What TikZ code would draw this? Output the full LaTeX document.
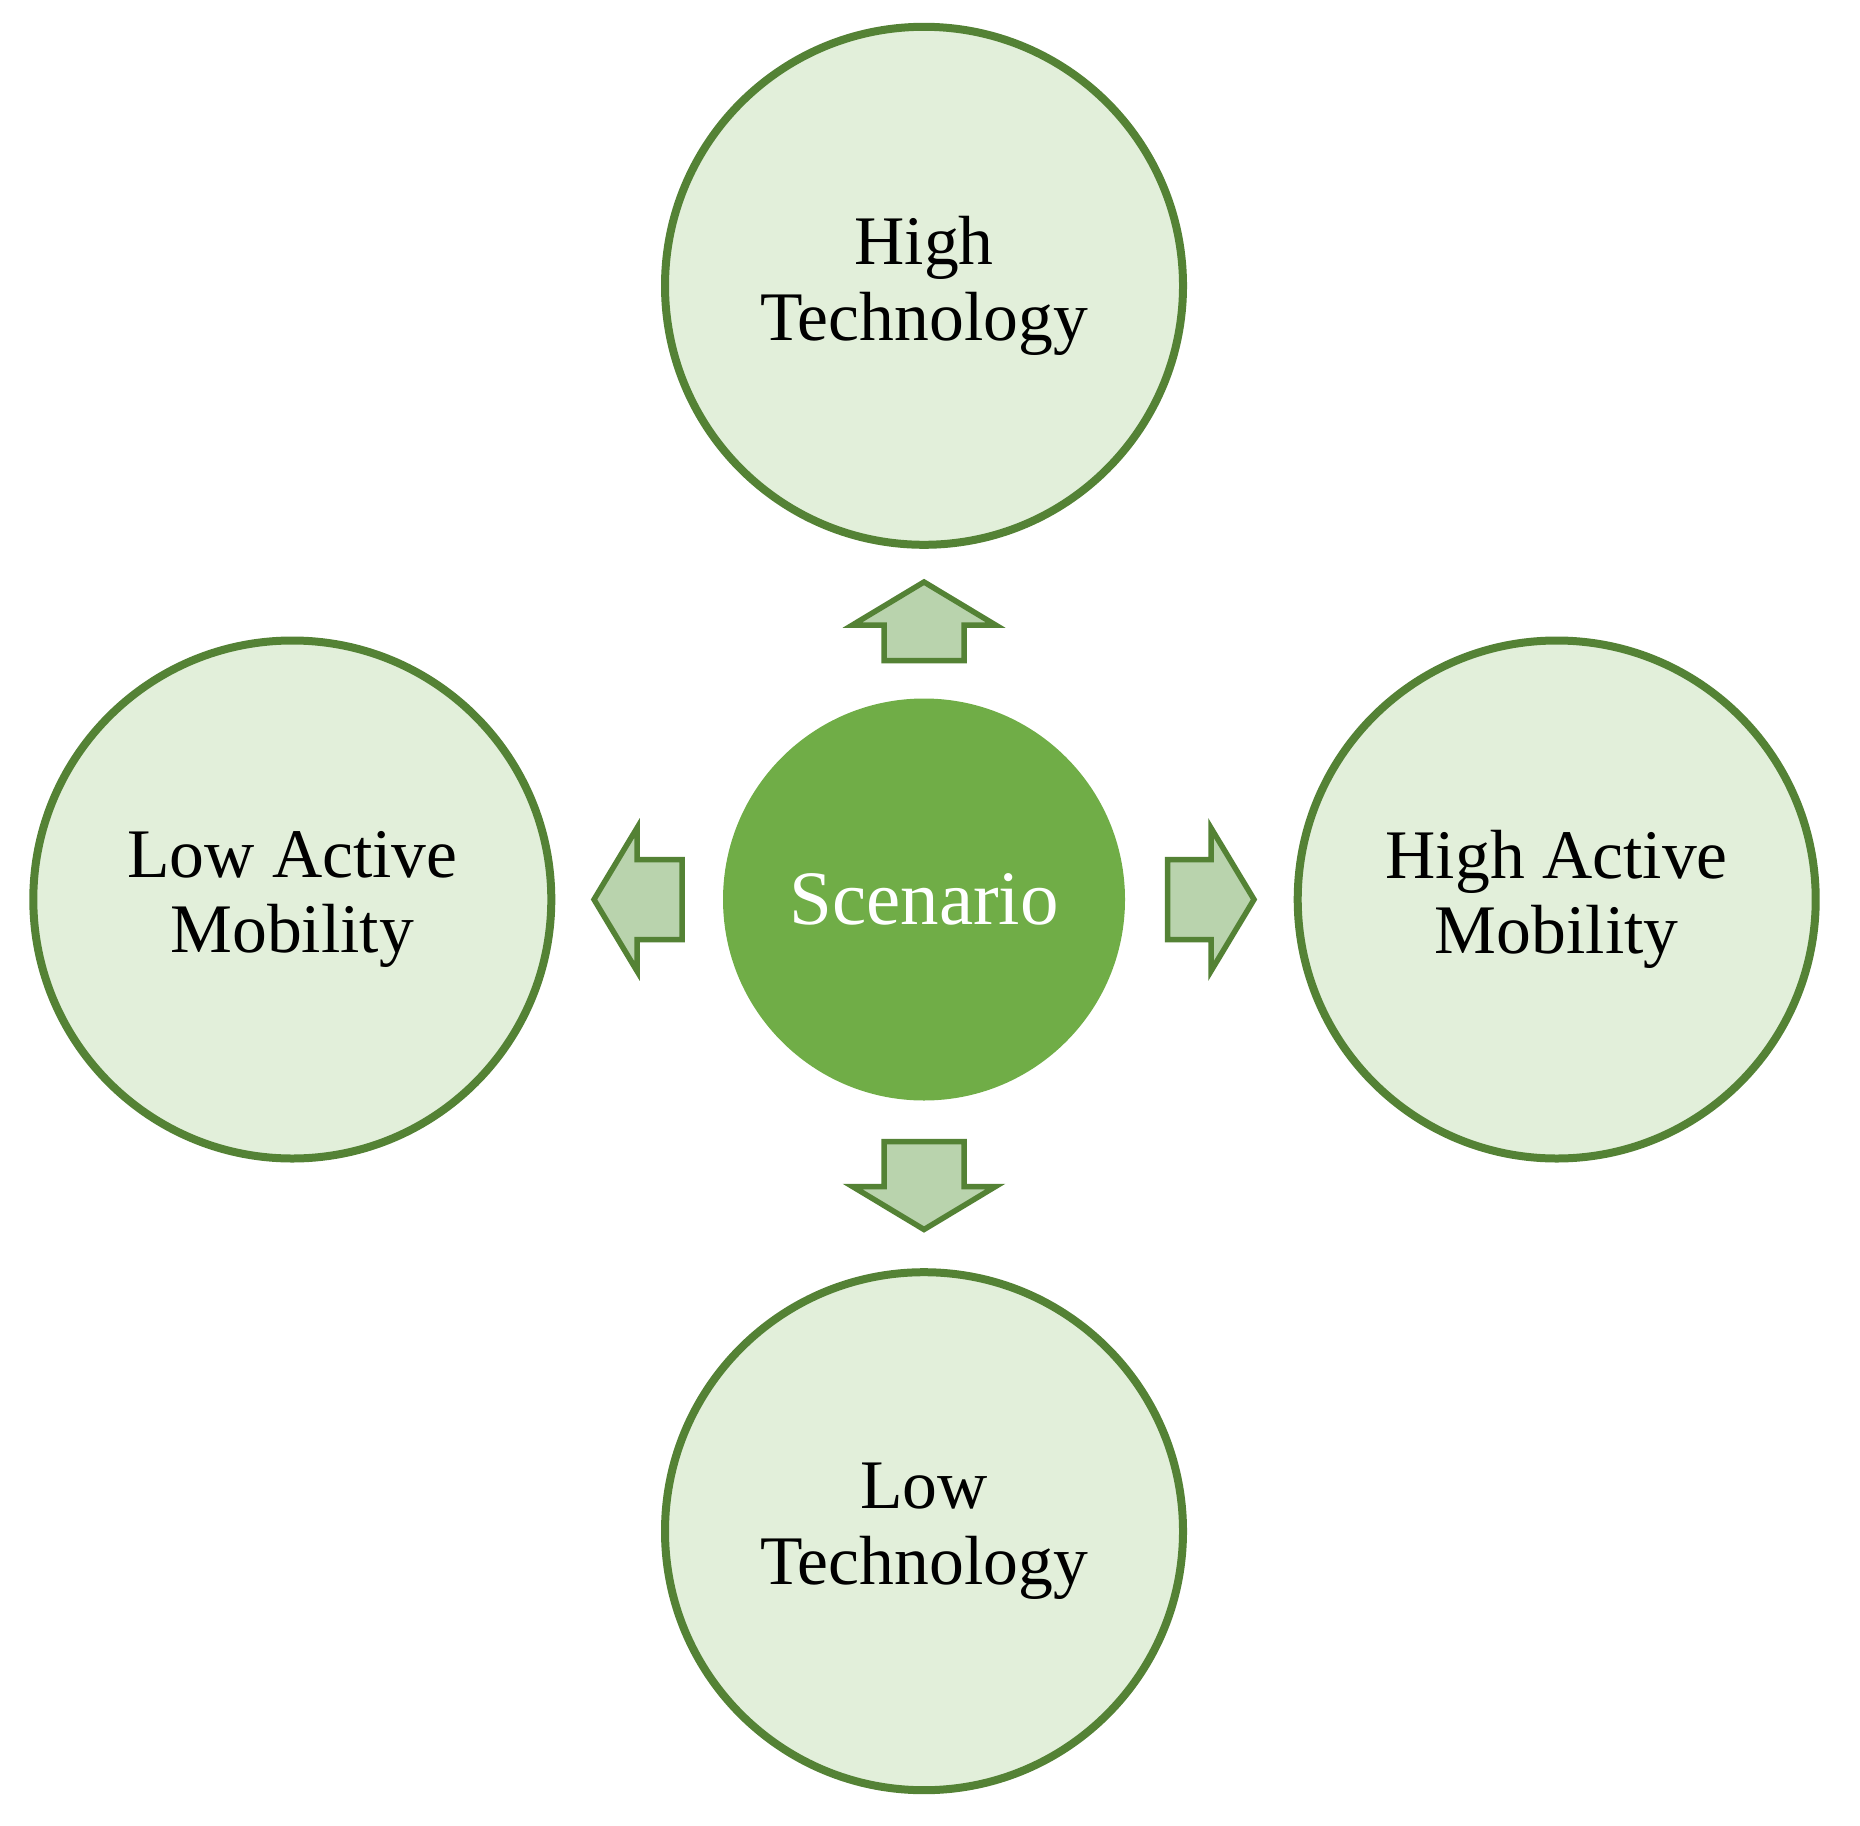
\documentclass[tikz,border=0pt]{standalone}
\usepackage{fontspec}
\setmainfont{Liberation Serif}
\usetikzlibrary{positioning}
\definecolor{darkgreen}{HTML}{548235}
\definecolor{palegreen}{HTML}{E2EFDA}
\definecolor{midgreen}{HTML}{70AD47}
\definecolor{arrowgreen}{HTML}{B9D3AD}

\tikzset{
  outer/.style={circle, draw=darkgreen, fill=palegreen, line width=0.08cm,
    minimum size=5.18cm, inner sep=0pt, align=center,
    font=\fontsize{19.8}{21.5}\selectfont},
  centre/.style={circle, fill=midgreen, minimum size=4.02cm, inner sep=0pt,
    text=white, font=\fontsize{21.9}{24}\selectfont},
  fat/.style={draw=darkgreen, fill=arrowgreen, line width=0.055cm, line join=miter}
}

\begin{document}
\begin{tikzpicture}
  \useasboundingbox (0,0) rectangle (18.6,-18.25);
  % Define nodes
  \node[centre] (s) at (9.24,-8.995) {Scenario};
  \node[outer, above=1.49cm of s] (ht) {High\\Technology};
  \node[outer, below=1.67cm of s] (lt) {Low\\Technology};
  \node[outer, left=1.67cm of s] (la) {Low Active\\Mobility};
  \node[outer, right=1.68cm of s] (ha) {High Active\\Mobility};
  % Block arrows out of the centre
  \foreach \ang/\from/\to in {90/2.39/3.175, 270/2.42/3.30, 0/2.435/3.30, 180/2.42/3.30}
    \draw[fat, shift={(s.center)}, rotate=\ang]
      (\from,-0.40) -- ({\to-0.43},-0.40) -- ({\to-0.43},-0.715) -- (\to,0)
      -- ({\to-0.43},0.715) -- ({\to-0.43},0.40) -- (\from,0.40) -- cycle;
\end{tikzpicture}
\end{document}
